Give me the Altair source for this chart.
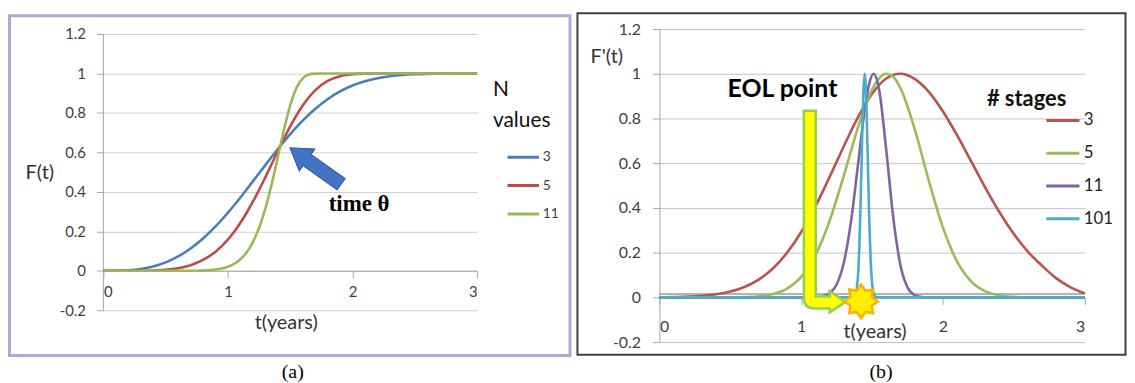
import math
import altair as alt
import pandas as pd

# ---------------- panel (a): F(t) ----------------
a_t = [0, 0.1, 0.2, 0.3, 0.4, 0.5, 0.6, 0.7, 0.8, 0.9, 0.95, 1.0, 1.05, 1.1, 1.15, 1.2, 1.25,
       1.3, 1.35, 1.4, 1.45, 1.5, 1.55, 1.6, 1.65, 1.7, 1.8, 1.9, 2.0, 2.1, 2.2, 2.3, 2.4, 2.5,
       2.6, 2.7, 2.8, 2.9, 3.0]
a_n3 = [0, 0.0004, 0.0028, 0.0094, 0.0221, 0.0427, 0.0727, 0.1129, 0.1637, 0.2248, 0.2588,
        0.2948, 0.3325, 0.3717, 0.4121, 0.4531, 0.4945, 0.5357, 0.5765, 0.6164, 0.6552, 0.6923,
        0.7276, 0.7609, 0.7917, 0.8202, 0.8696, 0.9089, 0.9389, 0.9606, 0.9757, 0.9857, 0.992,
        0.9957, 0.9978, 0.999, 0.9995, 0.9998, 1.0]
a_n5 = [0, 0, 0.0001, 0.0004, 0.0018, 0.0054, 0.0134, 0.0287, 0.0552, 0.0972, 0.1254, 0.159,
        0.1983, 0.2434, 0.2942, 0.3501, 0.4106, 0.4744, 0.54, 0.606, 0.6705, 0.7316, 0.7876,
        0.8374, 0.8798, 0.9145, 0.9621, 0.9863, 0.9961, 0.9992, 0.9999, 1.0, 1.0, 1.0, 1.0,
        1.0, 1.0, 1.0, 1.0]
a_n11 = [0, 0, 0, 0, 0, 0, 0.0001, 0.0004, 0.0018, 0.0066, 0.0119, 0.0209, 0.0355, 0.0585,
         0.0936, 0.1453, 0.2181, 0.3152, 0.4364, 0.5749, 0.716, 0.839, 0.9272, 0.9757, 0.9946,
         0.9993, 1.0, 1.0, 1.0, 1.0, 1.0, 1.0, 1.0, 1.0, 1.0, 1.0, 1.0, 1.0, 1.0]
a_series = ["3", "5", "11"]
a_colors = ["#4A7EBB", "#BE4B48", "#98B954"]

# ---------------- panel (b): F'(t) ----------------
b3_t = [0, 0.1, 0.2, 0.3, 0.4, 0.5, 0.6, 0.7, 0.8, 0.9, 1.0, 1.1, 1.2, 1.3, 1.4, 1.5, 1.6,
        1.7, 1.8, 1.9, 2.0, 2.1, 2.2, 2.3, 2.4, 2.5, 2.6, 2.7, 2.8, 2.9, 3.0]
b3_v = [0.0006, 0.0015, 0.0032, 0.0068, 0.0136, 0.0258, 0.0465, 0.0796, 0.129, 0.1995, 0.2924,
        0.407, 0.538, 0.675, 0.805, 0.911, 0.979, 1.0, 0.977, 0.919, 0.831, 0.724, 0.607, 0.489,
        0.3795, 0.2833, 0.2036, 0.1407, 0.085, 0.045, 0.018]
b5_t = [0, 0.5, 0.6, 0.7, 0.8, 0.9, 1.0, 1.1, 1.2, 1.3, 1.4, 1.5, 1.55, 1.6, 1.65, 1.7, 1.8,
        1.9, 2.0, 2.1, 2.2, 2.3, 2.4, 2.5, 2.6, 3.0]
b5_v = [0, 0.0002, 0.0014, 0.0048, 0.0145, 0.0389, 0.0914, 0.1886, 0.3417, 0.5434, 0.7584,
        0.9294, 0.9798, 1.0, 0.9855, 0.9358, 0.7537, 0.5224, 0.3116, 0.1599, 0.0706, 0.0268,
        0.0088, 0.0025, 0.0005, 0]
b11_t = [0, 1.0, 1.1, 1.15, 1.2, 1.25, 1.3, 1.35, 1.4, 1.45, 1.48, 1.51, 1.55, 1.6, 1.65, 1.7,
         1.75, 1.8, 1.85, 1.9, 3.0]
b11_v = [0, 0, 0.0009, 0.0043, 0.0175, 0.0574, 0.1534, 0.3336, 0.59, 0.8487, 0.956, 1.0, 0.927,
         0.6575, 0.3535, 0.1441, 0.0445, 0.0104, 0.0019, 0, 0]
b101_t = [0, 1.36, 1.37, 1.38, 1.39, 1.40, 1.41, 1.42, 1.43, 1.44, 1.448, 1.46, 1.47, 1.48,
          1.49, 1.50, 1.51, 1.52, 1.53, 1.54, 3.0]
b101_v = [0, 0, 0.0019, 0.0084, 0.031, 0.0926, 0.225, 0.445, 0.7156, 0.936, 1.0, 0.862, 0.6065,
          0.347, 0.1617, 0.0612, 0.0189, 0.0047, 0.001, 0, 0]
b_series = ["3", "5", "11", "101"]
b_colors = ["#C0504D", "#9BBB59", "#8064A2", "#4BACC6"]
b_ref_level = [0.015]

x_ticks = [0, 1, 2, 3]
y_ticks = [-0.2, 0, 0.2, 0.4, 0.6, 0.8, 1.0, 1.2]

# annotations (data coordinates)
a_arrow_pos = {"t": [1.703], "F": [0.531]}
a_note = {"t": [2.053], "F": [0.34], "label": ["time \u03b8"]}
a_caption = {"t": [1.52], "F": [-0.512], "label": ["(a)"]}
a_yaxis_line = {"t": [0], "F": [-0.2], "F2": [1.2]}
b_note = {"t": [0.868], "v": [0.933], "label": ["EOL point"]}
b_eol_pos = {"t": [1.1657], "v": [0.384]}
b_star_pos = {"t": [1.4225], "v": [-0.018]}
b_caption = {"t": [1.5625], "v": [-0.335], "label": ["(b)"]}

# ---------------- build tables ----------------
df_a = pd.DataFrame({
    "t": a_t * 3,
    "F": a_n3 + a_n5 + a_n11,
    "N": [a_series[0]] * len(a_t) + [a_series[1]] * len(a_t) + [a_series[2]] * len(a_t),
})
b_parts = [(b3_t, b3_v, "3"), (b5_t, b5_v, "5"), (b11_t, b11_v, "11"), (b101_t, b101_v, "101")]
df_b = pd.DataFrame({
    "t": sum([p[0] for p in b_parts], []),
    "v": sum([p[1] for p in b_parts], []),
    "S": sum([[p[2]] * len(p[0]) for p in b_parts], []),
})

FONT = "Lato"
LBL_EXPR = "datum.value < 0 ? '-' + format(-datum.value, '~g') : format(datum.value, '~g')"

# ---------------- shapes ----------------
arrow_path = "M -1 -0.22 L 0.33 -0.22 L 0.33 -0.43 L 1 0 L 0.33 0.43 L 0.33 0.22 L -1 0.22 Z"
eol_path = ("M -0.21 -1.015 L -0.09 -1.015 L -0.09 0.855 L 0.05 0.855 L 0.05 0.80 "
            "L 0.21 0.91 L 0.05 1.015 L 0.05 0.975 L -0.10 0.975 Q -0.21 0.975 -0.21 0.865 Z")
pts = []
for i in range(16):
    r = 1.0 if i % 2 == 0 else 0.68
    ang = -math.pi / 2 + i * math.pi / 8
    pts.append(f"{r * math.cos(ang):.3f} {r * math.sin(ang):.3f}")
star_path = "M " + " L ".join(pts) + " Z"


def make_axes(w_title, x_offset, x_title_x, x_title_y, x_lpad, lsize,
              y_title, y_title_x, y_title_y, y_lpad, grid_color, y_domain_line):
    xax = alt.Axis(values=x_ticks, orient="bottom", offset=x_offset, grid=False,
                   format="~g", labelFont=FONT, labelFontSize=lsize, labelColor="#404040",
                   labelPadding=x_lpad, tickSize=7, tickColor="#a6a6a6", domainColor="#a6a6a6",
                   title=w_title, titleFont=FONT, titleFontSize=20, titleFontWeight="normal",
                   titleColor="#333333", titleX=x_title_x, titleY=x_title_y,
                   titleAlign="center", titleBaseline="middle")
    yax = alt.Axis(values=y_ticks, grid=True, gridColor=grid_color, gridWidth=1,
                   domain=y_domain_line,
                   labelExpr=LBL_EXPR, labelFont=FONT, labelFontSize=lsize,
                   labelColor="#404040", labelPadding=y_lpad, tickSize=7, tickColor="#a6a6a6",
                   domainColor="#a6a6a6", title=y_title, titleAngle=0, titleFont=FONT,
                   titleFontSize=20, titleFontWeight="normal", titleColor="#333333",
                   titleX=y_title_x, titleY=y_title_y, titleAlign="center",
                   titleBaseline="middle")
    return xax, yax


# ---------------- panel (a) ----------------
xax_a, yax_a = make_axes("t(years)", -39.7, 183.5, 52.4, 7, 15,
                         "F(t)", -64.5, 144.7, 11, "#cfcfcf", False)
xs_a = alt.Scale(domain=[0, 3], nice=False, zero=False)
ys_a = alt.Scale(domain=[-0.2, 1.2252], nice=False)
XA = alt.X("t:Q", scale=xs_a, axis=xax_a)
YA = alt.Y("F:Q", scale=ys_a, axis=yax_a)

border_a = alt.Chart(pd.DataFrame({"k": [0]})).mark_rect(
    fillOpacity=0, stroke="#B4A7D6", strokeWidth=3
).encode(x=alt.value(-94.5), x2=alt.value(469.5), y=alt.value(-13.3), y2=alt.value(328.4))

yline_a = alt.Chart(pd.DataFrame(a_yaxis_line)).mark_rule(color="#a6a6a6", strokeWidth=1).encode(
    x=XA, y=YA, y2="F2:Q")

lines_a = alt.Chart(df_a).mark_line(strokeWidth=2.6, interpolate="monotone").encode(
    x=XA, y=YA,
    color=alt.Color("N:N", scale=alt.Scale(domain=a_series, range=a_colors),
                    legend=alt.Legend(
                        orient="none", legendX=392, legendY=50, padding=0,
                        title=["N", "values"], titleFont=FONT, titleFontSize=21,
                        titleFontWeight="normal", titleColor="#111111", titleLineHeight=32,
                        titlePadding=16, symbolType="stroke", symbolSize=1000,
                        symbolStrokeWidth=3, symbolOffset=13, labelFont=FONT,
                        labelFontSize=14, labelColor="#404040", labelOffset=2,
                        clipHeight=20, rowPadding=8.5)),
)

arrow_a = alt.Chart(pd.DataFrame(a_arrow_pos)).mark_point(
    shape=arrow_path, size=4000, angle=215.4, filled=True, fill="#4472C4",
    stroke="#2F5597", strokeWidth=1, opacity=1, fillOpacity=1
).encode(x=XA, y=YA)

note_a = alt.Chart(pd.DataFrame(a_note)).mark_text(
    font="Liberation Serif", fontWeight="bold", fontSize=23, color="#000000",
    align="center", baseline="middle"
).encode(x=XA, y=YA, text="label:N")

cap_a = alt.Chart(pd.DataFrame(a_caption)).mark_text(
    font="Liberation Serif", fontSize=20, color="#000000", align="center", baseline="middle"
).encode(x=XA, y=YA, text="label:N")

panel_a = alt.layer(border_a, yline_a, lines_a, arrow_a, note_a, cap_a).properties(
    width=376, height=283)

# ---------------- panel (b) ----------------
xax_b, yax_b = make_axes("t(years)", -45, 216.5, 34, 14, 16,
                         "F'(t)", -53.5, 27.7, 12, "#c4c4c4", True)
xs_b = alt.Scale(domain=[0, 3], nice=False, zero=False)
ys_b = alt.Scale(domain=[-0.2, 1.2], nice=False)
XB = alt.X("t:Q", scale=xs_b, axis=xax_b)
YB = alt.Y("v:Q", scale=ys_b, axis=yax_b)

border_b = alt.Chart(pd.DataFrame({"k": [0]})).mark_rect(
    fillOpacity=0, stroke="#404040", strokeWidth=2
).encode(x=alt.value(-82.5), x2=alt.value(469), y=alt.value(-16), y2=alt.value(327.7))

ref_b = alt.Chart(pd.DataFrame({"t": [0], "t2": [3], "v": b_ref_level})).mark_rule(
    color="#6b6b6b", strokeWidth=1.2
).encode(x=XB, x2="t2:Q", y=YB)

lines_b = alt.Chart(df_b).mark_line(strokeWidth=2.6, interpolate="monotone").encode(
    x=XB, y=YB,
    color=alt.Color("S:N", scale=alt.Scale(domain=b_series, range=b_colors),
                    legend=alt.Legend(
                        orient="none", legendX=329.5, legendY=60, padding=0,
                        title="# stages", titleFont=FONT, titleFontSize=22,
                        titleFontWeight="bold", titleColor="#111111", titlePadding=0,
                        symbolType="stroke", symbolSize=1109, symbolStrokeWidth=3,
                        symbolOffset=58, labelFont=FONT, labelFontSize=17,
                        labelColor="#222222", labelOffset=2.5, clipHeight=20,
                        rowPadding=13)),
)

eol_b = alt.Chart(pd.DataFrame(b_eol_pos)).mark_point(
    shape=eol_path, size=40000, filled=True, fill="#FFFF00", stroke="#92D050",
    strokeWidth=2.5, opacity=1, fillOpacity=1
).encode(x=XB, y=YB)

star_b = alt.Chart(pd.DataFrame(b_star_pos)).mark_point(
    shape=star_path, size=1150, filled=True, fill="#FFEE00", stroke="#FFB000",
    strokeWidth=2.5, opacity=1, fillOpacity=1
).encode(x=XB, y=YB)

note_b = alt.Chart(pd.DataFrame(b_note)).mark_text(
    font=FONT, fontWeight="bold", fontSize=25, color="#000000", align="center",
    baseline="middle"
).encode(x=XB, y=YB, text="label:N")

cap_b = alt.Chart(pd.DataFrame(b_caption)).mark_text(
    font="Liberation Serif", fontSize=20, color="#000000", align="center", baseline="middle"
).encode(x=XB, y=YB, text="label:N")

panel_b = alt.layer(border_b, ref_b, lines_b, eol_b, star_b, note_b, cap_b).properties(
    width=428, height=315)

chart = (
    alt.hconcat(panel_a, panel_b, spacing=4.5)
    .resolve_scale(color="independent")
    .properties(padding={"left": 0, "top": 3, "right": 0, "bottom": 0})
    .configure(background="white")
    .configure_view(stroke=None)
)

chart.save("out.html", embed_options={"renderer": "svg", "actions": False})
